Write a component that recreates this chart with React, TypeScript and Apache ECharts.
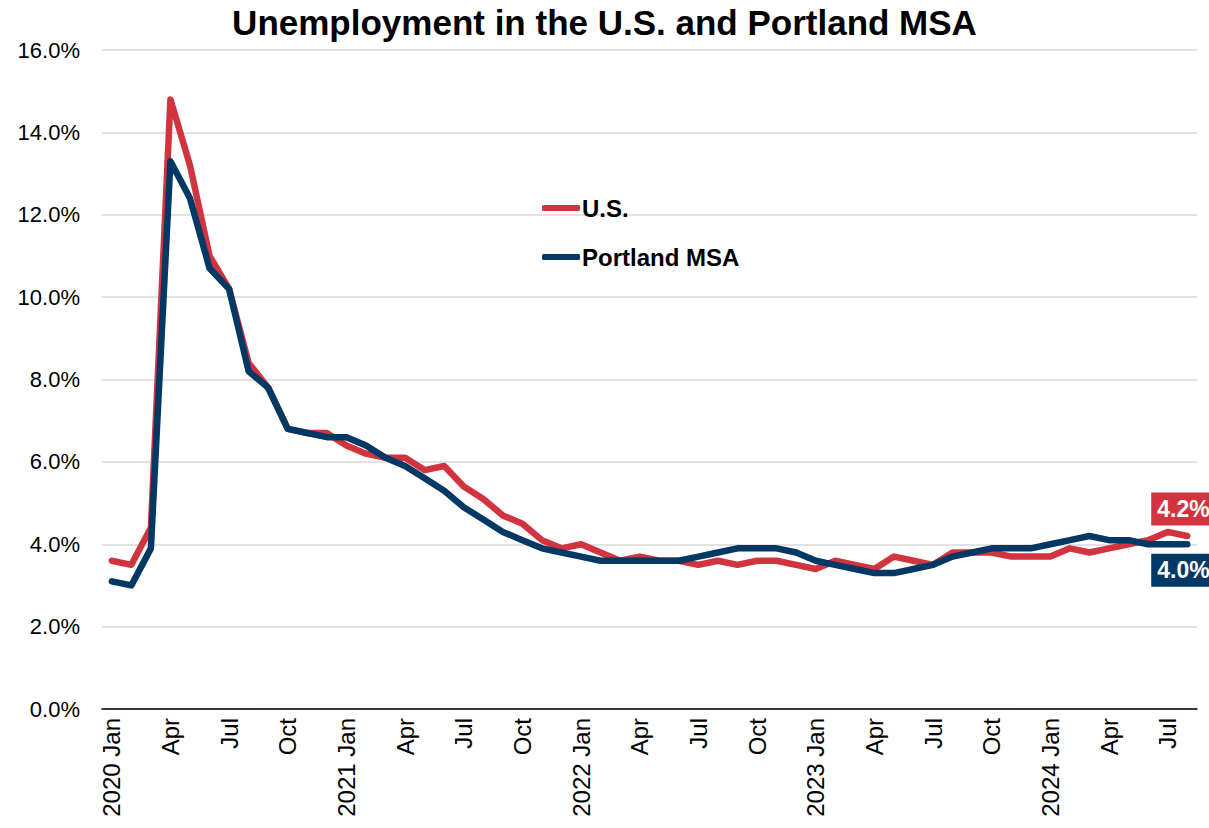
import React, { useEffect, useRef } from "react";
import * as echarts from "echarts";

const monthNames = ["Jan", "Feb", "Mar", "Apr", "May", "Jun", "Jul", "Aug", "Sep", "Oct", "Nov", "Dec"];
const years = [2020, 2021, 2022, 2023, 2024];
const lastMonthIndex2024 = 7; // Aug 2024

const categories: string[] = [];
const tickLabels: string[] = [];
years.forEach((y) => {
  monthNames.forEach((m, i) => {
    if (y === 2024 && i > lastMonthIndex2024) return;
    categories.push(`${y}-${String(i + 1).padStart(2, "0")}`);
    tickLabels.push(i === 0 ? `${y} Jan` : m);
  });
});

const usValues = [
  3.6, 3.5, 4.4, 14.8, 13.2, 11.0, 10.2, 8.4, 7.8, 6.8, 6.7, 6.7,
  6.4, 6.2, 6.1, 6.1, 5.8, 5.9, 5.4, 5.1, 4.7, 4.5, 4.1, 3.9,
  4.0, 3.8, 3.6, 3.7, 3.6, 3.6, 3.5, 3.6, 3.5, 3.6, 3.6, 3.5,
  3.4, 3.6, 3.5, 3.4, 3.7, 3.6, 3.5, 3.8, 3.8, 3.8, 3.7, 3.7,
  3.7, 3.9, 3.8, 3.9, 4.0, 4.1, 4.3, 4.2,
];

const portlandValues = [
  3.1, 3.0, 3.9, 13.3, 12.4, 10.7, 10.2, 8.2, 7.8, 6.8, 6.7, 6.6,
  6.6, 6.4, 6.1, 5.9, 5.6, 5.3, 4.9, 4.6, 4.3, 4.1, 3.9, 3.8,
  3.7, 3.6, 3.6, 3.6, 3.6, 3.6, 3.7, 3.8, 3.9, 3.9, 3.9, 3.8,
  3.6, 3.5, 3.4, 3.3, 3.3, 3.4, 3.5, 3.7, 3.8, 3.9, 3.9, 3.9,
  4.0, 4.1, 4.2, 4.1, 4.1, 4.0, 4.0, 4.0,
];

const RED = "#D1343E";
const NAVY = "#013864";
const FONT = "'Liberation Sans', Arial, sans-serif";

export default function App() {
  const ref = useRef<HTMLDivElement>(null);

  useEffect(() => {
    if (!ref.current) return;
    const chart = echarts.init(ref.current, undefined, { renderer: "svg" });
    chart.setOption({
      animation: false,
      backgroundColor: "#ffffff",
      title: {
        text: "Unemployment in the U.S. and Portland MSA",
        left: "center",
        top: 0,
        textStyle: { fontFamily: FONT, fontWeight: "bold", fontSize: 35, color: "#000" },
      },
      legend: {
        orient: "vertical",
        left: 537,
        top: 191,
        itemWidth: 38,
        itemHeight: 6,
        itemGap: 25,
        icon: "roundRect",
        textStyle: { fontFamily: FONT, fontWeight: "bold", fontSize: 24, color: "#000", padding: [0, 0, 0, -3] },
        data: [
          { name: "U.S.", itemStyle: { color: RED } },
          { name: "Portland MSA", itemStyle: { color: NAVY } },
        ],
      },
      grid: { left: 102, right: 12, top: 50, bottom: 119, containLabel: false },
      xAxis: {
        type: "category",
        data: categories,
        boundaryGap: true,
        axisLine: { show: true, lineStyle: { color: "#000", width: 1.5 } },
        axisTick: { show: false },
        axisLabel: {
          interval: 2,
          rotate: 90,
          margin: 9,
          fontFamily: FONT,
          fontSize: 24,
          color: "#000",
          formatter: (_v: string, idx: number) => tickLabels[idx],
        },
        splitLine: { show: false },
      },
      yAxis: {
        type: "value",
        min: 0,
        max: 16,
        interval: 2,
        axisLine: { show: false },
        axisTick: { show: false },
        axisLabel: {
          margin: 22,
          fontFamily: FONT,
          fontSize: 22,
          color: "#000",
          formatter: (v: number) => v.toFixed(1) + "%",
        },
        splitLine: { lineStyle: { color: "#d9d9d9", width: 1.5 } },
      },
      series: [
        {
          name: "U.S.",
          type: "line",
          data: usValues,
          symbol: "none",
          z: 2,
          lineStyle: { color: RED, width: 6.5, join: "round", cap: "round" },
          itemStyle: { color: RED },
          endLabel: {
            show: true,
            formatter: (p: any) => p.value.toFixed(1) + "%",
            backgroundColor: RED,
            color: "#fff",
            fontFamily: FONT,
            fontWeight: "bold",
            fontSize: 23,
            padding: [5, 6, 5, 6],
            offset: [-44, -27],
          },
        },
        {
          name: "Portland MSA",
          type: "line",
          data: portlandValues,
          symbol: "none",
          z: 3,
          lineStyle: { color: NAVY, width: 6.5, join: "round", cap: "round" },
          itemStyle: { color: NAVY },
          endLabel: {
            show: true,
            formatter: (p: any) => p.value.toFixed(1) + "%",
            backgroundColor: NAVY,
            color: "#fff",
            fontFamily: FONT,
            fontWeight: "bold",
            fontSize: 23,
            padding: [5, 6, 5, 6],
            offset: [-44, 26],
          },
        },
      ],
    });
    return () => chart.dispose();
  }, []);

  return (
    <div
      ref={ref}
      style={{ position: "fixed", left: 0, top: 0, width: 1209, height: 828, background: "#fff" }}
    />
  );
}
